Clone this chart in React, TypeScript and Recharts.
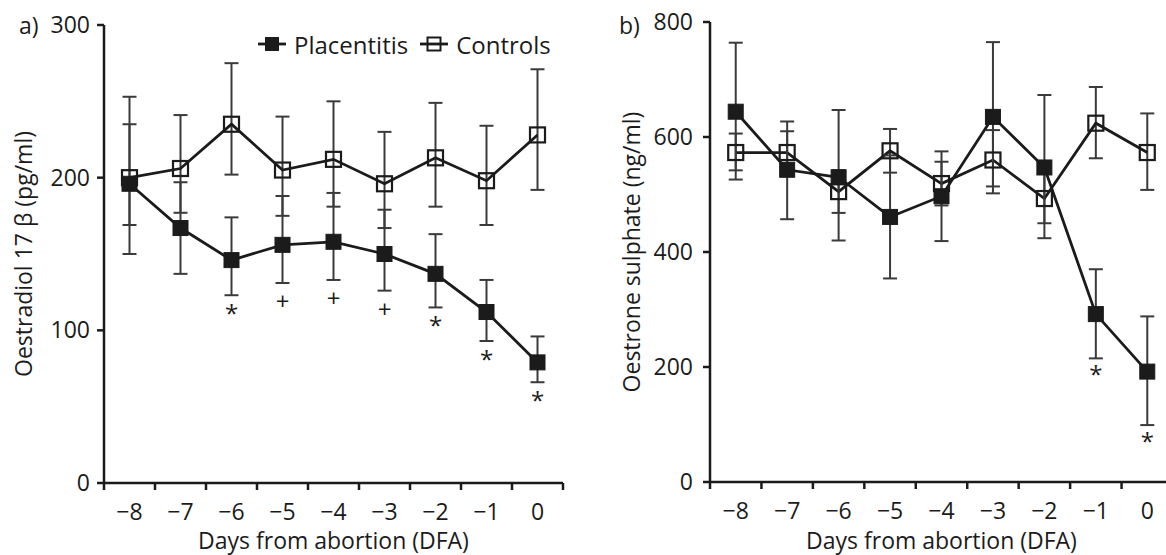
import React from 'react';
import { LineChart, Line, XAxis, YAxis, ErrorBar, LabelList, Legend } from 'recharts';

// days from abortion
const days = [-8, -7, -6, -5, -4, -3, -2, -1, 0];
const seriesNames = ['Placentitis', 'Controls'];

// a) oestradiol 17 beta (pg/ml)
const placA = [196, 167, 146, 156, 158, 150, 137, 112, 79];
const placALo = [27, 30, 23, 25, 25, 24, 22, 19, 13];
const placAHi = [39, 30, 28, 32, 32, 29, 26, 21, 17];
const ctrlA = [200, 206, 235, 205, 212, 196, 213, 198, 228];
const ctrlALo = [50, 29, 33, 30, 31, 29, 32, 29, 36];
const ctrlAHi = [53, 35, 40, 35, 38, 34, 36, 36, 43];
const sigA = ['', '', '*', '+', '+', '+', '*', '*', '*'];
const ticksA = [0, 100, 200, 300];

// b) oestrone sulphate (ng/ml)
const placB = [644, 543, 530, 461, 497, 635, 547, 292, 192];
const placBLo = [118, 86, 110, 107, 78, 133, 123, 77, 93];
const placBHi = [120, 84, 117, 107, 78, 130, 126, 78, 96];
const ctrlB = [573, 573, 505, 576, 519, 560, 493, 624, 573];
const ctrlBLo = [31, 36, 37, 38, 38, 46, 43, 61, 65];
const ctrlBHi = [33, 37, 37, 38, 38, 52, 43, 63, 68];
const sigB = ['', '', '', '', '', '', '', '*', '*'];
const ticksB = [0, 200, 400, 600, 800];

const FONT = '"Open Sans", "Noto Sans", sans-serif';
const INK = '#1b1b1b';
const BAR = '#3a3a3a';
const FS = 23;

function buildRows(
  plac: number[], placLo: number[], placHi: number[],
  ctrl: number[], ctrlLo: number[], ctrlHi: number[], sig: string[],
) {
  return days.map((day, i) => ({
    day,
    placentitis: plac[i],
    placErr: [placLo[i], placHi[i]],
    controls: ctrl[i],
    ctrlErr: [ctrlLo[i], ctrlHi[i]],
    sig: sig[i],
    sigY: plac[i] - placLo[i],
  }));
}

const rowsA = buildRows(placA, placALo, placAHi, ctrlA, ctrlALo, ctrlAHi, sigA);
const rowsB = buildRows(placB, placBLo, placBHi, ctrlB, ctrlBLo, ctrlBHi, sigB);

const squareDot = (filled: boolean) => (p: any) => {
  if (p.cx == null || p.cy == null) return <g key={`e-${p.index}`} />;
  const s = 15;
  return (
    <rect
      key={`d-${p.index}`}
      x={p.cx - s / 2}
      y={p.cy - s / 2}
      width={s}
      height={s}
      fill={filled ? INK : 'none'}
      stroke={INK}
      strokeWidth={filled ? 1 : 2.2}
    />
  );
};

// category labels sit mid-band, tick marks on the band edges
const DayTick = (props: any) => {
  const { x, y, payload, index, visibleTicksCount, width } = props;
  const n = visibleTicksCount || days.length;
  const half = (width || 460) / n / 2;
  const label = String(payload.value).replace('-', '\u2212');
  return (
    <g>
      <line x1={x - half} x2={x - half} y1={y} y2={y + 7} stroke={INK} strokeWidth={2.5} />
      {index === n - 1 && (
        <line x1={x + half} x2={x + half} y1={y} y2={y + 7} stroke={INK} strokeWidth={2.5} />
      )}
      <text x={x} y={y + 37} textAnchor="middle" fontSize={FS} fontFamily={FONT} fill={INK}>
        {label}
      </text>
    </g>
  );
};

const yTitle = (text: string, cx: number) => (props: any) => {
  const vb = props.viewBox;
  const cy = vb.y + vb.height / 2;
  return (
    <text
      x={cx}
      y={cy}
      transform={`rotate(-90 ${cx} ${cy})`}
      textAnchor="middle"
      dominantBaseline="central"
      fontSize={FS}
      fontFamily={FONT}
      fill={INK}
    >
      {text}
    </text>
  );
};

const LegendIcon = ({ filled }: { filled: boolean }) => (
  <svg width={28} height={16} style={{ display: 'block' }}>
    <line x1={0} x2={28} y1={8} y2={8} stroke={INK} strokeWidth={2.8} />
    <rect x={7.5} y={1.5} width={13} height={13} fill={filled ? INK : 'none'} stroke={INK} strokeWidth={filled ? 1 : 2} />
  </svg>
);

const legendContent = (props: any) => {
  const names = (props.payload || []).map((e: any) => e.value);
  const shown = seriesNames.filter((n) => names.includes(n));
  return (
    <div style={{ display: 'flex', alignItems: 'center', height: 30, fontFamily: FONT, fontSize: 24, color: INK }}>
      {shown.map((name, i) => (
        <div key={name} style={{ display: 'flex', alignItems: 'center', marginLeft: i ? 12 : 0 }}>
          <LegendIcon filled={name === 'Placentitis'} />
          <span style={{ marginLeft: 8, whiteSpace: 'nowrap' }}>{name}</span>
        </div>
      ))}
    </div>
  );
};

function Panel({
  rows, yTicks, yMax, yLabel, titleX, yWidth, tickMargin, width, margin, xHeight, sigOffset, showLegend,
}: any) {
  return (
    <LineChart width={width} height={555} data={rows} margin={margin}>
      <XAxis
        dataKey="day"
        type="number"
        domain={[-8.5, 0.5]}
        ticks={days}
        allowDataOverflow
        height={xHeight}
        tickSize={0}
        tickMargin={0}
        tickLine={false}
        tick={<DayTick />}
        axisLine={{ stroke: INK, strokeWidth: 2.5 }}
        label={{
          value: 'Days from abortion (DFA)',
          position: 'insideBottom',
          offset: 6,
          fontSize: FS,
          fontFamily: FONT,
          fill: INK,
        }}
      />
      <YAxis
        domain={[0, yMax]}
        ticks={yTicks}
        allowDataOverflow
        width={yWidth}
        tickSize={7}
        tickMargin={tickMargin}
        axisLine={{ stroke: INK, strokeWidth: 2.5 }}
        tickLine={{ stroke: INK, strokeWidth: 2.5 }}
        tick={{ fill: INK, fontSize: FS, fontFamily: FONT }}
        label={{ content: yTitle(yLabel, titleX) }}
      />
      {showLegend && (
        <Legend
          layout="horizontal"
          verticalAlign="middle"
          align="center"
          wrapperStyle={{ left: 258, top: 29, width: 320, height: 30 }}
          content={legendContent}
        />
      )}
      <Line
        name="Controls"
        dataKey="controls"
        stroke={INK}
        strokeWidth={2.8}
        dot={squareDot(false)}
        activeDot={false}
        isAnimationActive={false}
      >
        <ErrorBar dataKey="ctrlErr" direction="y" width={7} stroke={BAR} strokeWidth={2} />
      </Line>
      <Line
        name="Placentitis"
        dataKey="placentitis"
        stroke={INK}
        strokeWidth={2.8}
        dot={squareDot(true)}
        activeDot={false}
        isAnimationActive={false}
      >
        <ErrorBar dataKey="placErr" direction="y" width={7} stroke={BAR} strokeWidth={2} />
      </Line>
      <Line
        name="sig"
        dataKey="sigY"
        stroke="none"
        dot={false}
        activeDot={false}
        legendType="none"
        isAnimationActive={false}
      >
        <LabelList dataKey="sig" position="bottom" offset={sigOffset} fill={INK} fontSize={24} fontFamily={FONT} />
      </Line>
    </LineChart>
  );
}

export default function App() {
  const tag = (text: string, left: number) => (
    <div
      style={{
        position: 'absolute',
        left,
        top: 9,
        lineHeight: '32px',
        fontSize: FS,
        fontFamily: FONT,
        color: INK,
      }}
    >
      {text}
    </div>
  );
  return (
    <div
      style={{
        position: 'absolute',
        left: 0,
        top: 0,
        width: 1166,
        height: 555,
        overflow: 'hidden',
        background: '#fff',
      }}
    >
      <div style={{ position: 'absolute', left: 0, top: 0 }}>
        <Panel
          rows={rowsA}
          yTicks={ticksA}
          yMax={300}
          yLabel="Oestradiol 17 β (pg/ml)"
          titleX={23}
          yWidth={104}
          tickMargin={7}
          width={590}
          margin={{ top: 25, right: 27, left: 0, bottom: 0 }}
          xHeight={72}
          sigOffset={10}
          showLegend
        />
      </div>
      <div style={{ position: 'absolute', left: 590, top: 0 }}>
        <Panel
          rows={rowsB}
          yTicks={ticksB}
          yMax={800}
          yLabel="Oestrone sulphate (ng/ml)"
          titleX={41}
          yWidth={120}
          tickMargin={10}
          width={586}
          margin={{ top: 22, right: 3, left: 0, bottom: 0 }}
          xHeight={73}
          sigOffset={8}
          showLegend={false}
        />
      </div>
      {tag('a)', 19)}
      {tag('b)', 619)}
    </div>
  );
}
